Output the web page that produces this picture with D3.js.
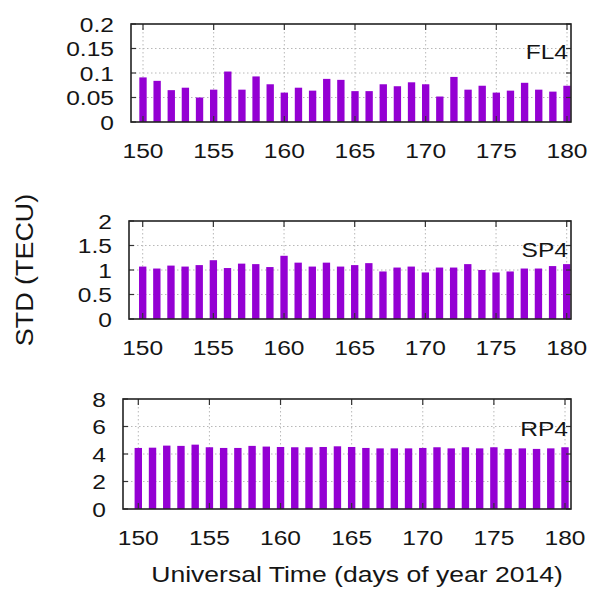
<!DOCTYPE html>
<html><head><meta charset="utf-8">
<script src="https://cdn.jsdelivr.net/npm/d3@7"></script>
<style>body{margin:0;background:#fff}svg{display:block}text{font-family:"Liberation Sans",Arial,sans-serif;fill:#151515}</style>
</head><body>
<svg id="c" width="595" height="590"></svg>
<script>
const days = d3.range(150, 181);
const fl4 = [0.091,0.084,0.065,0.070,0.050,0.066,0.103,0.066,0.093,0.077,0.060,0.070,0.064,0.088,0.086,0.063,0.063,0.077,0.073,0.081,0.077,0.052,0.092,0.066,0.074,0.060,0.064,0.080,0.066,0.062,0.074];
const sp4 = [1.07,1.03,1.09,1.07,1.10,1.20,1.04,1.13,1.12,1.06,1.29,1.15,1.07,1.15,1.07,1.10,1.14,0.97,1.05,1.07,0.95,1.05,1.05,1.12,1.00,0.95,0.97,1.03,1.03,1.08,1.12];
const rp4 = [4.44,4.46,4.61,4.59,4.68,4.49,4.44,4.44,4.59,4.54,4.51,4.49,4.49,4.51,4.56,4.51,4.44,4.41,4.41,4.41,4.44,4.49,4.41,4.49,4.41,4.49,4.37,4.41,4.37,4.41,4.49];
const xTicks = [150,155,160,165,170,175,180];
const fl4Ticks = [0,0.05,0.1,0.15,0.2];
const sp4Ticks = [0,0.5,1,1.5,2];
const rp4Ticks = [0,2,4,6,8];
const labels = ["FL4","SP4","RP4"];

const SX = 1.17; // horizontal stretch of the reference's typeface
const svg = d3.select("#c");
function txt(parent, x, y, s, size, anchor, rot) {
  return parent.append("text")
    .attr("transform", `translate(${x},${y})` + (rot ? ` rotate(${rot})` : "") + ` scale(${SX},1)`)
    .attr("text-anchor", anchor).attr("font-size", size).text(s);
}
const panels = [
  {vals:fl4, ticks:fl4Ticks, ymax:0.2, L:131, R:571, T:24, B:122, x0:143, x1:567, name:labels[0], labY:59},
  {vals:sp4, ticks:sp4Ticks, ymax:2, L:129, R:571, T:221, B:319, x0:142.7, x1:566.7, name:labels[1], labY:257},
  {vals:rp4, ticks:rp4Ticks, ymax:8, L:123, R:571, T:399, B:509, x0:138.3, x1:565, name:labels[2], labY:436}
];
const violet = "#9400d3";
panels.forEach(p => {
  const k = (p.x1 - p.x0)/30;
  const x = d3.scaleLinear().domain([150 - (p.x0 - p.L)/k, 180 + (p.R - p.x1)/k]).range([p.L, p.R]);
  const y = d3.scaleLinear().domain([0, p.ymax]).range([p.B, p.T]);
  const g = svg.append("g");
  g.selectAll(".gy").data(p.ticks.slice(1,-1)).join("line")
    .attr("x1",p.L).attr("x2",p.R).attr("y1",d=>y(d)).attr("y2",d=>y(d))
    .attr("stroke","#b8b8b8").attr("stroke-width",1).attr("stroke-dasharray","1.5,2.5");
  g.selectAll(".gx").data(xTicks).join("line")
    .attr("x1",d=>x(d)).attr("x2",d=>x(d)).attr("y1",p.T).attr("y2",p.B)
    .attr("stroke","#b8b8b8").attr("stroke-width",1).attr("stroke-dasharray","1.5,2.5");
  const bw = 0.52 * k;
  g.selectAll(".bar").data(days).join("rect")
    .attr("x",(d)=>x(d)-bw/2).attr("width",bw)
    .attr("y",(d,i)=>y(p.vals[i])).attr("height",(d,i)=>y(0)-y(p.vals[i]))
    .attr("fill",violet);
  xTicks.forEach(t=>{
    g.append("line").attr("x1",x(t)).attr("x2",x(t)).attr("y1",p.B).attr("y2",p.B-6).attr("stroke","#333").attr("stroke-width",1.2);
    g.append("line").attr("x1",x(t)).attr("x2",x(t)).attr("y1",p.T).attr("y2",p.T+6).attr("stroke","#333").attr("stroke-width",1.2);
  });
  p.ticks.forEach(t=>{
    g.append("line").attr("x1",p.L).attr("x2",p.L+5).attr("y1",y(t)).attr("y2",y(t)).attr("stroke","#333").attr("stroke-width",1.2);
    g.append("line").attr("x1",p.R).attr("x2",p.R-5).attr("y1",y(t)).attr("y2",y(t)).attr("stroke","#333").attr("stroke-width",1.2);
  });
  g.append("rect").attr("x",p.L).attr("y",p.T).attr("width",p.R-p.L).attr("height",p.B-p.T)
    .attr("fill","none").attr("stroke","#222").attr("stroke-width",1.6);
  p.ticks.forEach(t => txt(g, p.L-17, y(t)+7.5, String(t), 21, "end"));
  xTicks.forEach(t => txt(g, x(t), p.B+36, String(t), 21, "middle"));
  txt(g, p.R-3, p.labY, p.name, 21, "end");
});
txt(svg, 357, 582, "Universal Time (days of year 2014)", 22.7, "middle");
txt(svg, 33, 270, "STD (TECU)", 23, "middle", -90);
</script>
</body></html>
